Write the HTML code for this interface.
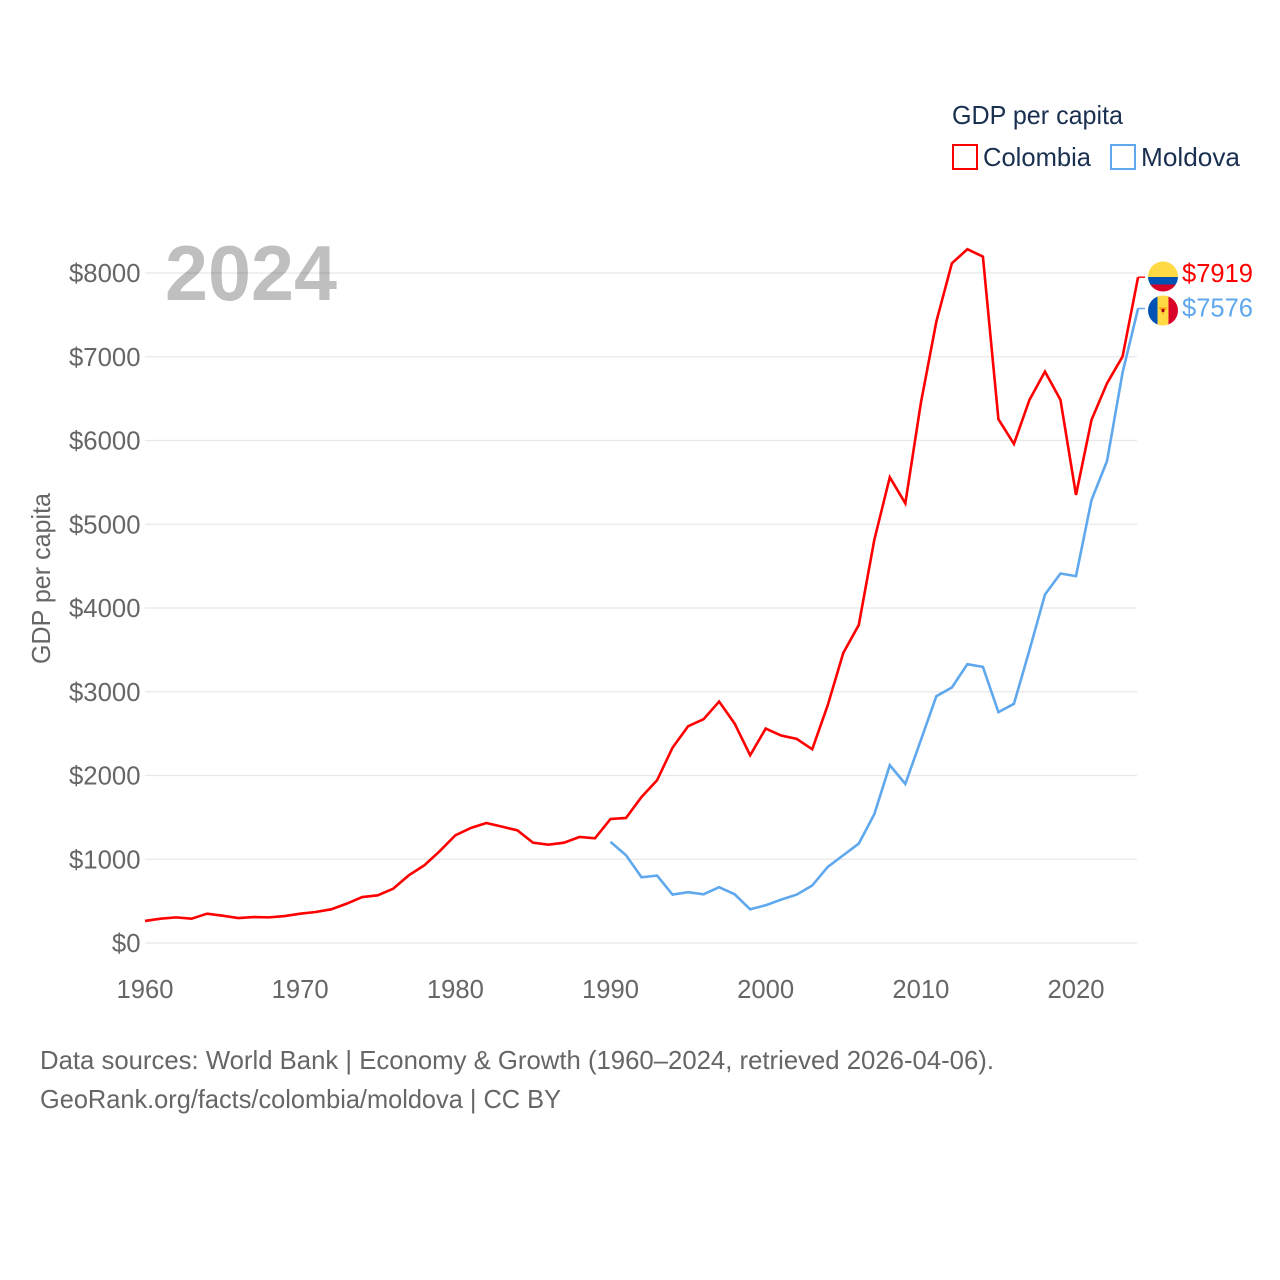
<!DOCTYPE html>
<html lang="en">
<head>
<meta charset="utf-8">
<title>GDP per capita: Colombia and Moldova</title>
<style>
html,body{margin:0;padding:0;background:#fff;width:1280px;height:1280px;overflow:hidden}
svg{display:block}
text{font-family:"Liberation Sans",sans-serif;font-size:26px;fill:#666}
.legend{fill:#1a3050}
</style>
</head>
<body>
<svg id="chart" width="1280" height="1280" viewBox="0 0 1280 1280" xmlns="http://www.w3.org/2000/svg">
  <g id="grid"></g>
  <g id="yticks"></g>
  <g id="xticks"></g>
  <text transform="translate(50,578.5) rotate(-90)" text-anchor="middle" textLength="171" lengthAdjust="spacingAndGlyphs">GDP per capita</text>
  <g id="series"></g>
  <text x="165" y="300" textLength="172" lengthAdjust="spacingAndGlyphs" style="font-size:78px;font-weight:bold;fill:rgba(0,0,0,0.25)">2024</text>

  <g>
    <text class="legend" x="952" y="124" textLength="171" lengthAdjust="spacingAndGlyphs">GDP per capita</text>
    <g>
      <rect x="953" y="145" width="24" height="24" fill="none" stroke="#ff0000" stroke-width="2"/>
      <text class="legend" x="983" y="166" textLength="108" lengthAdjust="spacingAndGlyphs">Colombia</text>
    </g>
    <g>
      <rect x="1111" y="145" width="24" height="24" fill="none" stroke="#5fa8ee" stroke-width="2"/>
      <text class="legend" x="1141" y="166" textLength="99" lengthAdjust="spacingAndGlyphs">Moldova</text>
    </g>
  </g>

  <defs>
    <clipPath id="flag-clip-co"><circle cx="1163" cy="276.5" r="15"/></clipPath>
    <clipPath id="flag-clip-md"><circle cx="1163" cy="310.5" r="15"/></clipPath>
  </defs>
  <g clip-path="url(#flag-clip-co)">
    <rect x="1148" y="261" width="30" height="16" fill="#ffda44"/>
    <rect x="1148" y="277" width="30" height="7.5" fill="#0052b4"/>
    <rect x="1148" y="284.5" width="30" height="8" fill="#d80027"/>
  </g>
  <g clip-path="url(#flag-clip-md)">
    <rect x="1148" y="295" width="9.5" height="31" fill="#0052b4"/>
    <rect x="1157.5" y="295" width="11" height="31" fill="#ffda44"/>
    <rect x="1168.5" y="295" width="10" height="31" fill="#d80027"/>
    <polygon points="1158.5,307.5 1167.5,307.5 1164.5,311 1163,315 1161.5,311" fill="#ff9811"/>
    <rect x="1161.7" y="309" width="2.6" height="3" fill="#a2001d"/>
  </g>
  <g id="endlabels"></g>

  <text x="40" y="1069" textLength="954" lengthAdjust="spacingAndGlyphs">Data sources: World Bank | Economy &amp; Growth (1960–2024, retrieved 2026-04-06).</text>
  <text x="40" y="1108" textLength="521" lengthAdjust="spacingAndGlyphs">GeoRank.org/facts/colombia/moldova | CC BY</text>
</svg>
<script>
var colombiaStartYear = 1960;
var colombiaValues = [263,290,306,290,350,326,298,310,306,322,350,370,402,470,549,569,649,808,927,1098,1285,1373,1433,1389,1345,1198,1174,1198,1266,1250,1481,1493,1744,1943,2333,2588,2672,2883,2620,2242,2560,2477,2437,2313,2839,3463,3797,4812,5561,5250,6445,7420,8116,8284,8196,6254,5959,6485,6823,6485,5350,6246,6683,7002,7950];
var moldovaStartYear = 1990;
var moldovaValues = [1207,1048,785,805,578,606,582,666,582,403,451,518,578,686,908,1048,1187,1537,2123,1900,2422,2947,3051,3329,3297,2756,2856,3496,4161,4412,4380,5290,5755,6810,7576];
var yTickValues = [0,1000,2000,3000,4000,5000,6000,7000,8000];
var xTickValues = [1960,1970,1980,1990,2000,2010,2020];
var endLabelTexts = ['$7919','$7576'];

var NS = 'http://www.w3.org/2000/svg';
function xScale(year){ return 145 + (year - 1960) * (1076 - 145) / 60; }
function yScale(v){ return 943 - v * (943 - 273) / 8000; }
function mk(tag, attrs, parent, txt){
  var e = document.createElementNS(NS, tag);
  for (var k in attrs) e.setAttribute(k, attrs[k]);
  if (txt !== undefined) e.textContent = txt;
  parent.appendChild(e);
  return e;
}
var grid = document.getElementById('grid');
var yt = document.getElementById('yticks');
var xt = document.getElementById('xticks');
var ser = document.getElementById('series');
var endG = document.getElementById('endlabels');

yTickValues.forEach(function(v){
  var line = mk('line', {x1:145, x2:1137, y1:yScale(v), y2:yScale(v), stroke:'#e8e8e8', 'stroke-width':1.2}, grid);
  
  
  var s = '$' + v;
  var t = mk('text', {x:140.5, y:yScale(v) + 9, 'text-anchor':'end', textLength:s.length * 14.3, lengthAdjust:'spacingAndGlyphs'}, yt, s);
  
  
});
xTickValues.forEach(function(y){
  var t = mk('text', {x:xScale(y), y:998, 'text-anchor':'middle', textLength:57, lengthAdjust:'spacingAndGlyphs'}, xt, String(y));
  
  
});
function drawLine(values, startYear, color){
  var pts = values.map(function(v, i){ return xScale(startYear + i).toFixed(2) + ',' + yScale(v).toFixed(2); });
  return mk('polyline', {points:pts.join(' '), fill:'none', stroke:color, 'stroke-width':2.6, 'stroke-linejoin':'miter'}, ser);
}
function drawStub(values, color){
  var lastY = yScale(values[values.length - 1]);
  return mk('line', {x1:1138, x2:1145, y1:lastY, y2:lastY, stroke:color, 'stroke-width':1.4}, ser);
}
var moldovaLine = drawLine(moldovaValues, moldovaStartYear, '#5fa8ee');


var moldovaStub = drawStub(moldovaValues, '#5fa8ee');


var colombiaLine = drawLine(colombiaValues, colombiaStartYear, '#ff0000');


var colombiaStub = drawStub(colombiaValues, '#ff0000');



var labelCo = mk('text', {x:1182, y:282, textLength:71, lengthAdjust:'spacingAndGlyphs', style:'fill:#ff0000'}, endG, endLabelTexts[0]);


var labelMd = mk('text', {x:1182, y:316.5, textLength:71, lengthAdjust:'spacingAndGlyphs', style:'fill:#5fa8ee'}, endG, endLabelTexts[1]);


</script>
</body>
</html>
